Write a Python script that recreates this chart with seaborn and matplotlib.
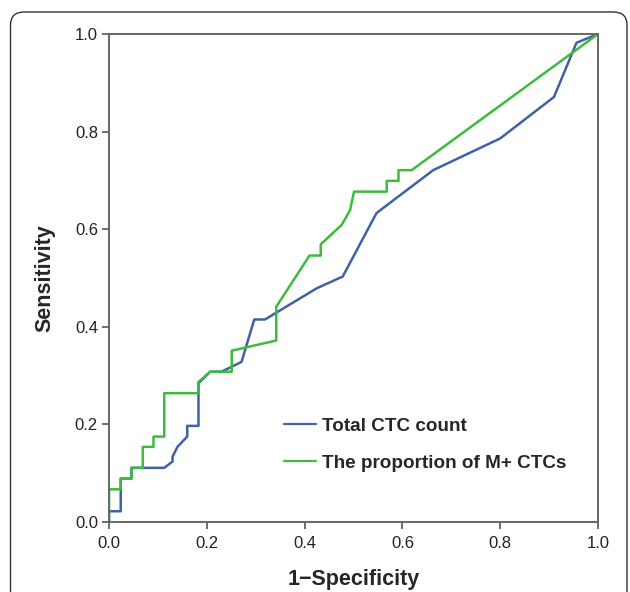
import matplotlib
matplotlib.use("Agg")
import matplotlib.pyplot as plt
from matplotlib.patches import FancyBboxPatch
import seaborn as sns
import pandas as pd

# ROC curve points
total_fpr = [0.0, 0.0, 0.024, 0.024, 0.046, 0.046, 0.113, 0.130, 0.130, 0.140, 0.160, 0.160,
             0.183, 0.183, 0.207, 0.230, 0.271, 0.297, 0.319, 0.425, 0.478, 0.547, 0.663,
             0.800, 0.910, 0.956, 1.0]
total_tpr = [0.0, 0.022, 0.022, 0.089, 0.089, 0.111, 0.111, 0.124, 0.134, 0.154, 0.175, 0.197,
             0.197, 0.284, 0.308, 0.308, 0.328, 0.415, 0.415, 0.479, 0.503, 0.633, 0.721,
             0.786, 0.871, 0.982, 1.0]

mplus_fpr = [0.0, 0.0, 0.024, 0.024, 0.046, 0.046, 0.069, 0.069, 0.091, 0.091, 0.113, 0.113,
             0.183, 0.183, 0.207, 0.251, 0.251, 0.342, 0.342, 0.410, 0.433, 0.433, 0.476,
             0.493, 0.501, 0.568, 0.568, 0.592, 0.592, 0.619, 1.0]
mplus_tpr = [0.0, 0.067, 0.067, 0.089, 0.089, 0.111, 0.111, 0.154, 0.154, 0.175, 0.175, 0.264,
             0.264, 0.287, 0.308, 0.308, 0.351, 0.372, 0.441, 0.546, 0.546, 0.569, 0.609,
             0.639, 0.677, 0.677, 0.699, 0.699, 0.721, 0.721, 1.0]

series_names = ["Total CTC count", "The proportion of M+ CTCs"]
tick_values = [0.0, 0.2, 0.4, 0.6, 0.8, 1.0]

df = pd.concat([
    pd.DataFrame({"fpr": total_fpr, "tpr": total_tpr, "series": series_names[0],
                  "order": range(len(total_fpr))}),
    pd.DataFrame({"fpr": mplus_fpr, "tpr": mplus_tpr, "series": series_names[1],
                  "order": range(len(mplus_fpr))}),
], ignore_index=True)

sns.set_style("white")
plt.rcParams["font.family"] = ["Liberation Sans", "DejaVu Sans"]

fig = plt.figure(figsize=(6.3, 5.92), dpi=100)
ax = fig.add_axes([109 / 630, 1 - 522 / 592, (598 - 109) / 630, (522 - 34) / 592])

palette = {series_names[0]: "#4060A8", series_names[1]: "#3DBB3D"}
sns.lineplot(data=df, x="fpr", y="tpr", hue="series", palette=palette, sort=False,
             estimator=None, units="series", lw=1.8, ax=ax, legend=True)

ax.set_xlim(0, 1)
ax.set_ylim(0, 1)
ax.set_xticks(tick_values)
ax.set_yticks(tick_values)
ax.set_xticklabels([f"{v:.1f}" for v in tick_values])
ax.set_yticklabels([f"{v:.1f}" for v in tick_values])
ax.tick_params(axis="both", direction="out", length=5, width=1.2, color="#555555",
               labelsize=12, labelcolor="#222222", pad=3,
               bottom=True, left=True, top=False, right=False)
ax.tick_params(axis="x", pad=5)
for s in ax.spines.values():
    s.set_color("#666666")
    s.set_linewidth(1.4)

ax.set_xlabel("1\u2212Specificity", fontsize=15.5, fontweight="bold", labelpad=13)
ax.set_ylabel("Sensitivity", fontsize=15.5, fontweight="bold", labelpad=14)

leg = ax.legend(loc="upper left", bbox_to_anchor=(0.343, 0.23), frameon=False,
                fontsize=13.6, handlelength=1.7, handletextpad=0.3, labelspacing=1.05,
                borderaxespad=0)
for t in leg.get_texts():
    t.set_fontweight("bold")
for h in leg.get_lines():
    h.set_linewidth(1.6)

frame = FancyBboxPatch((10.5 / 630, -30 / 592), (627 - 10.5) / 630, (580 + 30) / 592,
                       boxstyle="round,pad=0,rounding_size=0.022",
                       transform=fig.transFigure, facecolor="none",
                       edgecolor="#333333", lw=1.0, clip_on=False)
fig.patches.append(frame)

fig.savefig("out.png", dpi=100)
